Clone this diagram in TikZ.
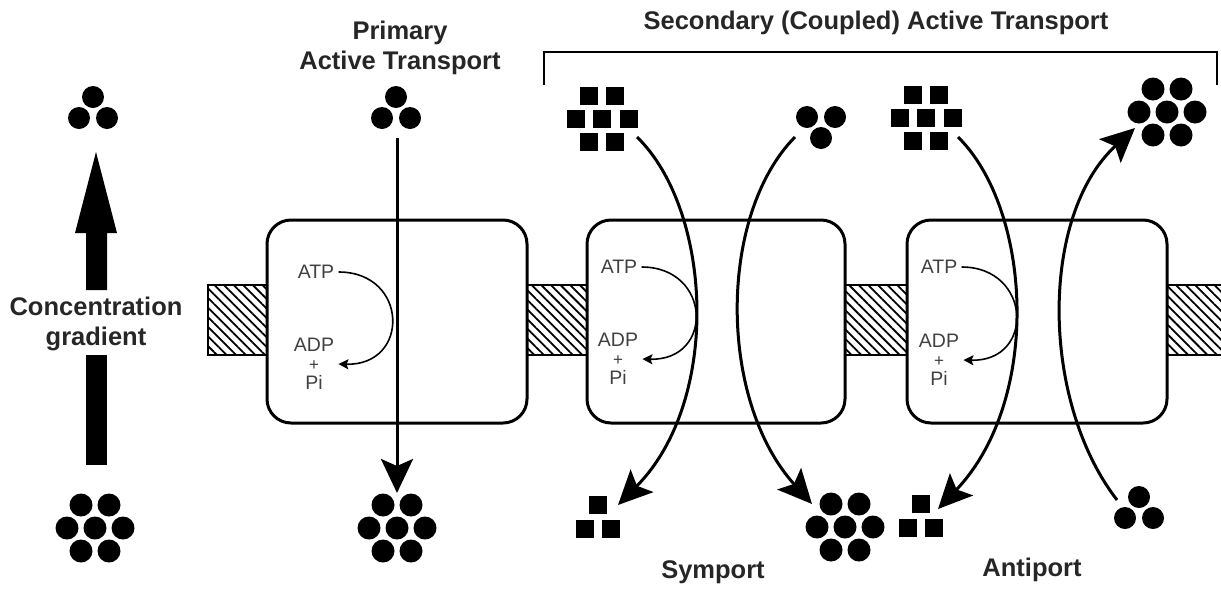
\documentclass[tikz,border=0pt]{standalone}
\usepackage{fontspec}
\setmainfont{Liberation Sans}
\usetikzlibrary{arrows.meta,patterns.meta}

\begin{document}
\begin{tikzpicture}[x=0.5pt,y=-0.5pt]
    \tikzset{
      pump/.style={draw,fill=white,line width=1.5pt,rounded corners=12pt,
        minimum width=#1,minimum height=101.5pt,inner sep=0pt},
      lipid/.style={draw,line width=1.4pt,
        pattern={Lines[angle=-45,distance=3.4pt,line width=0.9pt]}},
      flow/.style={line width=1.5pt,-{Stealth[length=17pt,width=16pt,inset=3.5pt]}},
      react/.style={line width=0.8pt,-{Stealth[length=5pt,width=5pt,inset=1pt]}},
      label/.style={font=\bfseries\fontsize{12.75pt}{15pt}\selectfont,
        text=black!85,align=center,inner sep=0pt},
      chem/.style={font=\fontsize{9.75pt}{9.5pt}\selectfont,text=black!75,
        align=center,inner sep=2pt},
      tri/.pic={\fill (0,-11) circle[radius=11] (-14,10) circle[radius=11]
        (14,10) circle[radius=11];},
      hex/.pic={\foreach \p in {(-14,-23),(14,-23),(-28,0),(0,0),(28,0),(-14,23),(14,23)}
        \fill \p circle[radius=11.5];},
      sqseven/.pic={\foreach \p in {(-13,-23),(13,-23),(-26.5,0),(0,0),(26.5,0),(-13,23),(13,23)}
        \fill[shift={\p}] (-9,-9) rectangle (9,9);},
      sqthree/.pic={\foreach \p in {(0,-12),(-13,12),(13,12)}
        \fill[shift={\p}] (-9,-9) rectangle (9,9);}
    }
    \useasboundingbox (0,0) rectangle (1221,590);
    % membrane
    \draw[lipid] (208,285) rectangle (267,355);
    \draw[lipid] (527,285) rectangle (587,355);
    \draw[lipid] (845,285) rectangle (907,355);
    \draw[lipid] (1167,285) rectangle (1226,355);
    % carriers
    \node[pump=130pt] (pumpP) at (397,321.5) {};
    \node[pump=129pt] (pumpS) at (716,321.5) {};
    \node[pump=130pt] (pumpA) at (1037,321.5) {};
    %
    \node[chem] (atpP) at (316,272) {ATP};
    \node[chem] (adpP) at (314,364) {ADP\\{\fontsize{8.5pt}{9.5pt}\selectfont+}\\Pi};
    \node[chem] (atpS) at (619,267) {ATP};
    \node[chem] (adpS) at (618,359) {ADP\\{\fontsize{8.5pt}{9.5pt}\selectfont+}\\Pi};
    \node[chem] (atpA) at (939,267) {ATP};
    \node[chem] (adpA) at (939,360) {ADP\\{\fontsize{8.5pt}{9.5pt}\selectfont+}\\Pi};
    \draw[react] (atpP.east) .. controls +(70,0) and +(72,2) .. (adpP.east);
    \draw[react] (atpS.east) .. controls +(70,0) and +(72,2) .. (adpS.east);
    \draw[react] (atpA.east) .. controls +(70,0) and +(72,2) .. (adpA.east);
    % concentration gradient
    \fill (86,290) -- (86,233) -- (75,233) -- (96,152) -- (117,233)
      -- (107,233) -- (107,290) -- cycle;
    \fill (86,355) rectangle (107,465);
    \node[label] (grad) at (96,324) {Concentration\\gradient};
    \pic (lowTop) at (93,108) {tri};
    \pic (lowBot) at (95,528) {hex};
    % primary
    \node[label] (priLab) at (400,48) {Primary\\Active Transport};
    \pic (priTop) at (396,108) {tri};
    \pic (priBot) at (397,528) {hex};
    \coordinate (priIn) at (397,138);
    \coordinate (priOut) at (397,493);
    \draw[flow] (priIn) -- (priOut);
    % secondary
    \node[label] (secLab) at (876,23) {Secondary (Coupled) Active Transport};
    \coordinate (brL) at (544,85);
    \coordinate (brR) at (1217,85);
    \draw[line width=1.4pt] (brL) -- (544,52) -- (1217,52) -- (brR);
    % symport
    \pic (symSqIn) at (602,119) {sqseven};
    \pic (symSqOut) at (598,517) {sqthree};
    \pic[yscale=-1] (symCiIn) at (821,127) {tri};
    \pic (symCiOut) at (845,527) {hex};
    \coordinate (symA) at (637,137);
    \coordinate (symB) at (618,505);
    \coordinate (symC) at (795,137);
    \coordinate (symD) at (812,504);
    \draw[flow] (symA) .. controls (712,210) and (722,400) .. (symB);
    \draw[flow] (symC) .. controls (718,215) and (718,400) .. (symD);
    \node[label] (symLab) at (713,572) {Symport};
    % antiport
    \pic (antSqIn) at (926,118) {sqseven};
    \pic (antSqOut) at (921,516) {sqthree};
    \pic (antCiIn) at (1139,508) {tri};
    \pic (antCiOut) at (1167,112) {hex};
    \coordinate (antA) at (958,137);
    \coordinate (antB) at (938,509);
    \coordinate (antC) at (1117,500);
    \coordinate (antD) at (1135,128);
    \draw[flow] (antA) .. controls (1032,210) and (1042,400) .. (antB);
    \draw[flow] (antC) .. controls (1040,400) and (1040,215) .. (antD);
    \node[label] (antLab) at (1032,570) {Antiport};
\end{tikzpicture}
\end{document}
